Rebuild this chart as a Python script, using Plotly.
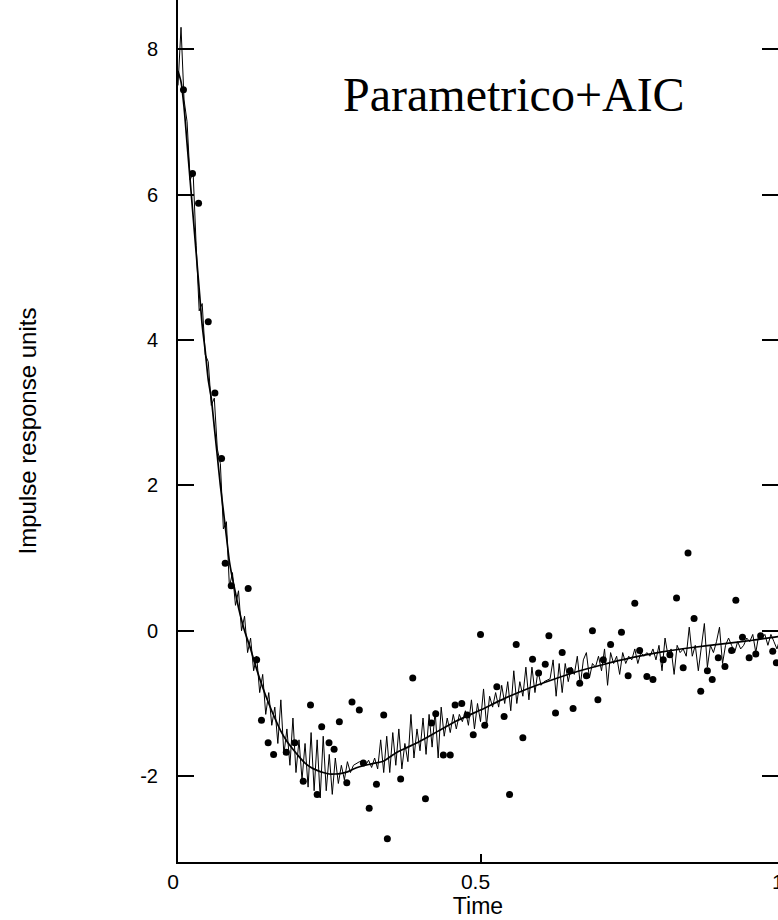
import plotly.graph_objects as go

# smooth (true) impulse response
T_SMOOTH = [0, .005, .01, .015, .02, .025, .03, .035, .04, .045, .05, .055, .06, .065, .07,
            .075, .08, .085, .09, .095, .10, .105, .11, .12, .13, .14, .15, .16, .17, .18,
            .19, .20, .21, .22, .23, .24, .25, .26, .27, .28, .29, .30, .32, .34, .36, .38,
            .40, .43, .46, .50, .54, .58, .62, .66, .70, .75, .80, .85, .90, .95, 1.0]
Y_SMOOTH = [7.7, 7.55, 7.2, 6.7, 6.2, 5.7, 5.2, 4.7, 4.2, 3.85, 3.45, 3.2, 2.8, 2.4, 2.0,
            1.65, 1.3, 0.95, 0.72, 0.52, 0.32, 0.15, 0.0, -0.25, -0.53, -0.78, -1.0, -1.2, -1.38, -1.52,
            -1.63, -1.73, -1.82, -1.88, -1.92, -1.95, -1.97, -1.97, -1.96, -1.94, -1.9, -1.87, -1.83, -1.79, -1.68, -1.60,
            -1.52, -1.38, -1.24, -1.09, -0.93, -0.79, -0.67, -0.56, -0.47, -0.37, -0.29, -0.23, -0.18, -0.13, -0.07]

# noisy estimate, sampled every NOISY_DT starting at NOISY_T0
NOISY_T0 = 0.0
NOISY_DT = 0.005
Y_NOISY = [
    7.5, 8.3, 7.3, 7.0, 6.2, 6.3, 5.3, 4.4, 4.5, 3.8,
    3.7, 3.1, 3.2, 2.5, 2.3, 1.4, 1.5, 0.6, 0.8, 0.35,
    0.55, 0.0, 0.2, -0.3, -0.1, -0.55, -0.35, -0.85, -0.6, -1.15,
    -0.85, -1.3, -1.05, -1.55, -0.95, -1.7, -1.35, -1.85, -1.2, -1.95,
    -1.5, -2.05, -1.55, -2.15, -1.4, -2.2, -1.5, -2.3, -1.45, -2.2,
    -1.7, -2.25, -1.75, -2.1, -1.85, -2.05, -1.8, -1.95, -1.85, -1.82,
    -1.8, -1.8, -1.85, -1.78, -1.88, -1.75, -1.9, -1.5, -1.95, -1.45,
    -1.95, -1.4, -1.85, -1.35, -1.9, -1.55, -1.8, -1.15, -1.75, -1.35,
    -1.65, -1.2, -1.7, -1.15, -1.6, -1.1, -1.75, -1.05, -1.45, -1.2,
    -1.4, -1.15, -1.35, -1.15, -1.25, -1.1, -1.3, -0.95, -1.35, -1.0,
    -1.25, -0.8, -1.3, -0.9, -1.05, -0.85, -1.05, -0.75, -1.0, -0.7,
    -1.1, -0.55, -1.0, -0.7, -0.9, -0.5, -0.95, -0.5, -0.85, -0.55,
    -0.75, -0.7, -0.68, -0.66, -0.4, -0.9, -0.45, -0.85, -0.45, -0.7,
    -0.5, -0.6, -0.35, -0.75, -0.4, -0.3, -0.65, -0.45, -0.5, -0.35,
    -0.55, -0.25, -0.75, -0.3, -0.45, -0.35, -0.6, -0.3, -0.45, -0.35,
    -0.4, -0.25, -0.45, -0.3, -0.35, -0.3, -0.35, -0.25, -0.4, -0.2,
    -0.55, -0.1, -0.35, -0.25, -0.6, -0.2, -0.3, -0.25, -0.35, 0.05,
    -0.35, -0.2, -0.55, -0.25, 0.1, -0.5, -0.2, -0.3, -0.15, 0.05,
    -0.45, -0.2, -0.1, -0.2, -0.3, -0.15, -0.25, -0.2, -0.1, -0.15,
    -0.05, -0.3, -0.05, -0.1, -0.05, -0.2, -0.05, -0.15, -0.25, -0.1,
    -0.2,
]

# measured data points
T_DOTS = [.009, .024, .034, .050, .061, .072, .078, .088, .116,
          .130, .138, .149, .158, .179, .193, .207, .219, .230, .2375,
          .2496, .258, .2667, .279, .2876, .2997, .3063, .316, .328, .340,
          .346, .368, .388, .409, .419, .426, .4386, .45, .458, .469,
          .478, .488, .500, .507, .527, .539, .548, .559, .570, .586,
          .596, .607, .613, .624, .635, .648, .653, .664, .675, .685,
          .694, .703, .715, .733, .744, .755, .763, .775, .785, .802,
          .813, .824, .835, .843, .853, .864, .875, .883, .893, .904,
          .915, .922, .933, .944, .955, .963, .983, .989]
Y_DOTS = [7.44, 6.29, 5.88, 4.25, 3.27, 2.37, 0.93, 0.62, 0.58,
          -0.40, -1.23, -1.54, -1.70, -1.67, -1.54, -2.07, -1.02, -2.25, -1.32,
          -1.54, -1.63, -1.25, -2.09, -0.98, -1.09, -1.82, -2.44, -2.11, -1.16,
          -2.86, -2.04, -0.65, -2.31, -1.27, -1.14, -1.71, -1.71, -1.02, -1.0,
          -1.16, -1.43, -0.05, -1.30, -0.77, -1.18, -2.25, -0.19, -1.47, -0.39,
          -0.58, -0.46, -0.07, -1.13, -0.30, -0.55, -1.07, -0.72, -0.62, 0.0,
          -0.95, -0.40, -0.19, -0.02, -0.62, 0.38, -0.27, -0.63, -0.67, -0.40,
          -0.33, 0.45, -0.51, 1.07, 0.17, -0.83, -0.55, -0.67, -0.37, -0.49,
          -0.27, 0.42, -0.09, -0.37, -0.32, -0.07, -0.28, -0.44]

Y_TICKS = [-2, 0, 2, 4, 6, 8]
Y_TICKTEXT = ["-2", "0", "2", "4", "6", "8"]
X_TICKS = [0, 0.5]
X_TICKTEXT = ["0", "0.5"]
TITLE = "Parametrico+AIC"

SANS = "Liberation Sans, Arial, sans-serif"
SERIF = "Liberation Serif, Times New Roman, serif"

fig = go.Figure()
fig.add_trace(go.Scatter(x=T_DOTS, y=Y_DOTS, mode="markers",
                         marker=dict(symbol="circle", size=7, color="black"),
                         cliponaxis=True, hoverinfo="skip"))
fig.add_trace(go.Scatter(x0=NOISY_T0, dx=NOISY_DT, y=Y_NOISY, mode="lines",
                         line=dict(color="black", width=1), hoverinfo="skip"))
fig.add_trace(go.Scatter(x=T_SMOOTH, y=Y_SMOOTH, mode="lines",
                         line=dict(color="black", width=1.7, shape="spline", smoothing=0.6),
                         hoverinfo="skip"))
fig.add_trace(go.Scatter(x=[], y=[], yaxis="y2", showlegend=False))

yr = [-3.18, 8.675]
fig.update_layout(
    width=778, height=920,
    margin=dict(l=178, r=0, t=0, b=58),
    plot_bgcolor="white", paper_bgcolor="white",
    showlegend=False,
    xaxis=dict(range=[0, 0.9917], tickvals=X_TICKS, ticktext=X_TICKTEXT,
               ticks="inside", ticklen=8, tickwidth=1.5, tickcolor="black",
               showline=True, linecolor="black", linewidth=2,
               showgrid=False, zeroline=False, automargin=False,
               tickfont=dict(family=SANS, size=21, color="black"),
               ticklabelshift=-5,
               title=dict(text="Time", font=dict(family=SANS, size=23, color="black"), standoff=0)),
    yaxis=dict(range=yr, tickvals=Y_TICKS, ticktext=Y_TICKTEXT, ticks="inside", ticklen=16,
               tickwidth=1.5, tickcolor="black", showline=True, linecolor="black", linewidth=2,
               showgrid=False, zeroline=False, automargin=False,
               tickfont=dict(family=SANS, size=20, color="black"),
               ticklabelstandoff=14,
               title=dict(text="Impulse response units",
                          font=dict(family=SANS, size=24, color="black"), standoff=97)),
    yaxis2=dict(range=yr, overlaying="y", side="right", tickvals=Y_TICKS, ticks="inside",
                ticklen=16, tickwidth=1.5, tickcolor="black", showline=False,
                showticklabels=False, showgrid=False, zeroline=False, automargin=False),
    annotations=[
        dict(text=TITLE, x=0.269, y=7.37, xref="x", yref="y", xanchor="left", yanchor="middle",
             showarrow=False, font=dict(family=SERIF, size=48, color="black")),
        dict(text="1", x=1 / 0.9917, y=0, xref="paper", yref="paper", xanchor="center",
             yanchor="top", xshift=-5, yshift=-6, showarrow=False,
             font=dict(family=SANS, size=21, color="black")),
    ],
)

fig.write_html("out.html", config={"displayModeBar": False},
               post_script="document.body.style.margin='0px';")
